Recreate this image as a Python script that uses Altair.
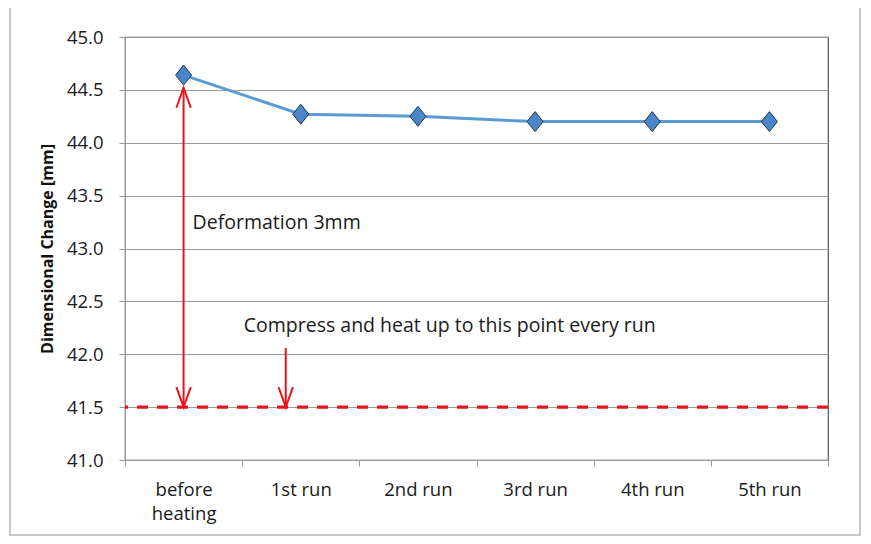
import altair as alt
import pandas as pd

categories = ["before heating", "1st run", "2nd run", "3rd run", "4th run", "5th run"]
values = [44.64, 44.27, 44.25, 44.20, 44.20, 44.20]
target_level = 41.5
deform_top = 44.52
compress_arrow_top = 42.06
deform_label = "Deformation 3mm"
deform_label_y = 43.24
compress_label = "Compress and heat up to this point every run"
compress_label_y = 42.27

FONT = "Open Sans"
RED = "#E8141B"

df = pd.DataFrame({"cat": categories, "val": values})

xenc = alt.X("cat:N", sort=categories, title=None,
             scale=alt.Scale(paddingInner=0, paddingOuter=0),
             axis=alt.Axis(labelAngle=0, tickBand="extent", labelPadding=14,
                           labelFontSize=18.5, labelFont=FONT, labelColor="#1a1a1a",
                           labelExpr="datum.label == 'before heating' ? ['before', 'heating'] : datum.label",
                           labelLineHeight=24, tickSize=6, tickColor="#999",
                           domainColor="#999", grid=False))
yscale = alt.Scale(domain=[41, 45], nice=False, zero=False)
yenc = alt.Y("val:Q", scale=yscale, title="Dimensional Change [mm]",
             axis=alt.Axis(values=[41, 41.5, 42, 42.5, 43, 43.5, 44, 44.5, 45], format=".1f",
                           labelFontSize=18.5, labelFont=FONT, labelColor="#1a1a1a", labelPadding=16,
                           titleFont=FONT, titleFontSize=16, titleFontWeight="bold", titleColor="#111",
                           titlePadding=11, tickSize=6, tickColor="#999", domainColor="#999",
                           gridColor="#9a9a9a", gridWidth=1))

xs = alt.X("cat:N", sort=categories)
ys = alt.Y("y:Q", scale=yscale)

# decorative outer frame (Excel chart area border)
frame = alt.Chart(pd.DataFrame({"a": [0]})).mark_rect(
    fill=None, stroke="#b5b5b5", strokeWidth=1.5, clip=False
).encode(x=alt.value(-115), x2=alt.value(735), y=alt.value(-32), y2=alt.value(498))

base = alt.Chart(df)
line = base.mark_line(color="#5B9BD5", strokeWidth=3).encode(x=xenc, y=yenc)
pts = base.mark_point(
    shape="M0,-1L0.8,0L0,1L-0.8,0Z", size=400, filled=True,
    fill="#4A86C8", stroke="#1E3552", strokeWidth=1, opacity=1
).encode(x=xs, y=alt.Y("val:Q", scale=yscale))

ref_df = pd.DataFrame({"y": [target_level]})
dash = alt.Chart(ref_df).mark_rule(color=RED, strokeWidth=3.2, strokeDash=[11, 9]).encode(y=ys)

# double-headed deformation arrow at "before heating"
arrow1_df = pd.DataFrame({"cat": [categories[0]], "y": [target_level], "y2": [deform_top]})
arrow1 = alt.Chart(arrow1_df).mark_rule(color=RED, strokeWidth=2).encode(x=xs, y=ys, y2="y2:Q")
head_up = alt.Chart(pd.DataFrame({"cat": [categories[0]], "y": [deform_top]})).mark_point(
    shape="M-0.36,1L0,0L0.36,1", size=1600, filled=False, stroke=RED, strokeWidth=2, opacity=1
).encode(x=xs, y=ys)
head_dn1 = alt.Chart(pd.DataFrame({"cat": [categories[0]], "y": [target_level]})).mark_point(
    shape="M-0.36,-1L0,0L0.36,-1", size=1600, filled=False, stroke=RED, strokeWidth=2, opacity=1
).encode(x=xs, y=ys)

# "compress" arrow, slightly left of the 1st run
arrow2_df = pd.DataFrame({"cat": [categories[1]], "y": [target_level], "y2": [compress_arrow_top]})
arrow2 = alt.Chart(arrow2_df).mark_rule(color=RED, strokeWidth=2, xOffset=-15).encode(x=xs, y=ys, y2="y2:Q")
head_dn2 = alt.Chart(pd.DataFrame({"cat": [categories[1]], "y": [target_level]})).mark_point(
    shape="M-0.36,-1L0,0L0.36,-1", size=1600, filled=False, stroke=RED, strokeWidth=2, opacity=1,
    xOffset=-15
).encode(x=xs, y=ys)

txt1 = alt.Chart(pd.DataFrame({"cat": [categories[0]], "y": [deform_label_y], "t": [deform_label]})).mark_text(
    align="left", baseline="middle", font=FONT, fontSize=19.5, color="#1a1a1a", dx=9
).encode(x=xs, y=ys, text="t:N")
txt2 = alt.Chart(pd.DataFrame({"cat": [categories[1]], "y": [compress_label_y], "t": [compress_label]})).mark_text(
    align="left", baseline="middle", font=FONT, fontSize=19.5, color="#1a1a1a", dx=-57
).encode(x=xs, y=ys, text="t:N")

chart = alt.layer(frame, dash, line, pts, arrow1, head_up, head_dn1, arrow2, head_dn2, txt1, txt2).properties(
    width=703, height=423,
    autosize=alt.AutoSizeParams(type="none"),
    padding={"left": 117, "top": 29, "right": 35, "bottom": 80},
    background="white",
).configure_view(stroke="#555", strokeWidth=1.2)

chart.save("out.html", embed_options={"renderer": "svg", "actions": False})
